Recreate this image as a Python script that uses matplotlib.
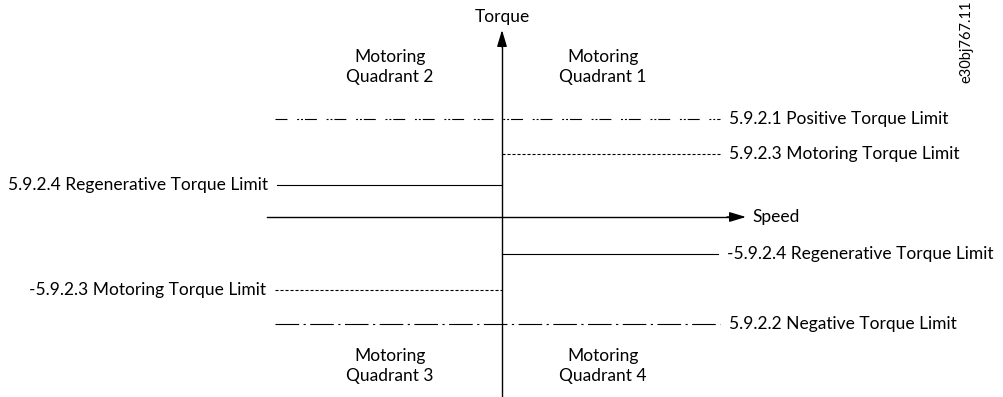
import matplotlib
matplotlib.use("Agg")
import matplotlib.pyplot as plt

plt.rcParams['font.family'] = ['Lato', 'DejaVu Sans']
plt.rcParams['lines.scale_dashes'] = False

# Torque limit levels (diagram units, speed axis at 0)
limit_names = ["5.9.2.1 Positive Torque Limit",
               "5.9.2.3 Motoring Torque Limit",
               "5.9.2.4 Regenerative Torque Limit",
               "-5.9.2.4 Regenerative Torque Limit",
               "-5.9.2.3 Motoring Torque Limit",
               "5.9.2.2 Negative Torque Limit"]
limit_levels = [98, 63, 32, -37, -73, -107]
# speed extent of each limit line (start, end)
limit_x0 = [-227, 0, -225, 0, -227, -227]
limit_x1 = [218, 218, 0, 216, 0, 218]
limit_side = ["right", "right", "left", "right", "left", "right"]
limit_style = ["dashdotdot", "dotted", "solid", "solid", "dotted", "dashdot"]

quadrant_labels = ["Motoring\nQuadrant 1", "Motoring\nQuadrant 2",
                   "Motoring\nQuadrant 3", "Motoring\nQuadrant 4"]
quadrant_x = [101, -112, -112, 101]
quadrant_y = [150, 150, -149, -149]

styles = {
    "solid": dict(linestyle="-"),
    "dotted": dict(linestyle=(0, (2.2, 1.4))),
    "dashdot": dict(linestyle=(0, (17, 3.2, 1.6, 3.2))),
    "dashdotdot": dict(linestyle=(0, (8.6, 7.0, 1.4, 1.4, 1.4, 1.4))),
}

fig = plt.figure(figsize=(10.04, 3.97), dpi=100)
ax = fig.add_axes([0, 0, 1, 1])
ax.set_xlim(-502, 502)
ax.set_ylim(-180, 217)
ax.axis("off")

fs = 12.5

# axes
ax.plot([-235, 234], [0, 0], color="black", lw=1.0)
ax.annotate("", xy=(244, 0), xytext=(225, 0),
            arrowprops=dict(arrowstyle="-|>,head_length=1.0,head_width=0.3",
                            color="black", lw=1.0, shrinkA=0, shrinkB=0))
ax.plot([0, 0], [-180, 176], color="black", lw=1.0)
ax.annotate("", xy=(0, 187), xytext=(0, 170),
            arrowprops=dict(arrowstyle="-|>,head_length=1.0,head_width=0.3",
                            color="black", lw=1.0, shrinkA=0, shrinkB=0))
ax.text(0, 200, "Torque", ha="center", va="center", fontsize=fs)
ax.text(250, 0, "Speed", ha="left", va="center", fontsize=fs)

for name, lev, x0, x1, side, st in zip(limit_names, limit_levels, limit_x0,
                                       limit_x1, limit_side, limit_style):
    ax.plot([x0, x1], [lev, lev], color="black", lw=0.8, **styles[st])
    if side == "right":
        ax.text(x1 + 9, lev, name, ha="left", va="center", fontsize=fs)
    else:
        ax.text(x0 - 9, lev, name, ha="right", va="center", fontsize=fs)

for lab, qx, qy in zip(quadrant_labels, quadrant_x, quadrant_y):
    ax.text(qx, qy, lab, ha="center", va="center", fontsize=fs,
            linespacing=1.35)

ax.text(464, 175, "e30bj767.11", rotation=90, ha="center", va="center",
        fontsize=10.5)

fig.savefig("out.png", dpi=100)
